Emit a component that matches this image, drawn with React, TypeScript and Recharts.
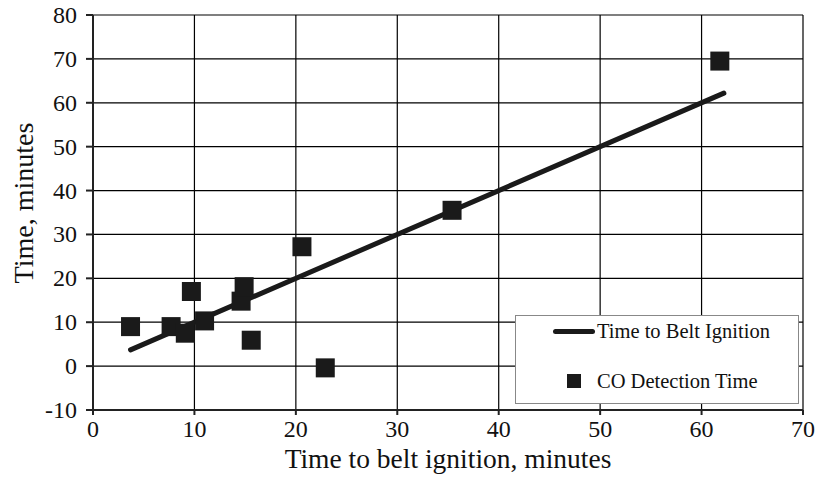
import { CartesianGrid, ComposedChart, Line, Scatter, XAxis, YAxis } from 'recharts'

const coX = [3.7, 7.7, 9.1, 9.7, 11.0, 14.6, 14.9, 15.6, 20.6, 22.9, 35.4, 61.8]
const coY = [9.0, 9.0, 7.5, 17.0, 10.3, 14.8, 18.1, 5.9, 27.2, -0.4, 35.5, 69.5]
const beltX = [3.7, 62.2]
const beltY = [3.7, 62.2]
const xTicks = [0, 10, 20, 30, 40, 50, 60, 70]
const yTicks = [-10, 0, 10, 20, 30, 40, 50, 60, 70, 80]

const coData = coX.map((x, i) => ({ x, co: coY[i] }))
const beltData = beltX.map((x, i) => ({ x, belt: beltY[i] }))

const FONT = '"Liberation Serif", "DejaVu Serif", serif'

function Square(props: any) {
  const { cx, cy } = props
  const s = 19
  return <rect x={cx - s / 2} y={cy - s / 2} width={s} height={s} fill="#1a1a1a" />
}

// serif tick labels
function XTick({ x, y, payload }: any) {
  return (
    <text x={x} y={y} dy={17} textAnchor="middle" fontFamily={FONT} fontSize={24} fill="#111">
      {payload.value}
    </text>
  )
}

function YTick({ x, y, payload }: any) {
  return (
    <text x={x} y={y} dy={8} textAnchor="end" fontFamily={FONT} fontSize={24} fill="#111">
      {payload.value}
    </text>
  )
}

function LegendBox() {
  return (
    <div
      style={{
        position: 'absolute',
        left: 515,
        top: 315,
        width: 284,
        height: 89,
        boxSizing: 'border-box',
        border: '1px solid #888',
        background: '#fff',
        fontFamily: FONT,
        fontSize: 20.5,
        lineHeight: '23px',
        color: '#111',
      }}
    >
      <div style={{ position: 'absolute', left: 37, top: 3.5, display: 'flex', alignItems: 'center', whiteSpace: 'nowrap' }}>
        <span style={{ display: 'inline-block', width: 42, height: 5, borderRadius: 3, background: '#1a1a1a' }} />
        <span style={{ marginLeft: 2 }}>Time to Belt Ignition</span>
      </div>
      <div style={{ position: 'absolute', left: 51, top: 53.5, display: 'flex', alignItems: 'center', whiteSpace: 'nowrap' }}>
        <span style={{ display: 'inline-block', width: 14, height: 14, background: '#1a1a1a' }} />
        <span style={{ marginLeft: 16 }}>CO Detection Time</span>
      </div>
    </div>
  )
}

export default function App() {
  return (
    <div
      style={{
        position: 'absolute',
        left: 0,
        top: 0,
        width: 817,
        height: 477,
        background: '#fff',
        fontFamily: FONT,
      }}
    >
      <ComposedChart width={817} height={477} margin={{ top: 15, right: 14, bottom: 0, left: 0 }}>
        <CartesianGrid stroke="#000" strokeWidth={1.2} />
        <XAxis
          type="number"
          dataKey="x"
          domain={[0, 70]}
          ticks={xTicks}
          allowDataOverflow
          height={67}
          tickSize={5}
          tickMargin={5}
          stroke="#222"
          strokeWidth={2}
          tick={<XTick />}
          label={{
            content: ({ viewBox }: any) => (
              <text
                x={viewBox.x + viewBox.width / 2}
                y={viewBox.y + 58}
                textAnchor="middle"
                fontSize={27.5}
                fontFamily={FONT}
                fill="#111"
              >
                Time to belt ignition, minutes
              </text>
            ),
          }}
        />
        <YAxis
          type="number"
          domain={[-10, 80]}
          ticks={yTicks}
          allowDataOverflow
          width={93}
          tickSize={7}
          tickMargin={9}
          stroke="#222"
          strokeWidth={2}
          tick={<YTick />}
          label={{
            content: ({ viewBox }: any) => {
              const cx = viewBox.x + 33
              const cy = viewBox.y + 188
              return (
                <text
                  x={cx}
                  y={cy}
                  transform={`rotate(-90 ${cx} ${cy})`}
                  textAnchor="middle"
                  fontSize={28}
                  fontFamily={FONT}
                  fill="#111"
                >
                  Time, minutes
                </text>
              )
            },
          }}
        />
        <Line
          data={beltData}
          dataKey="belt"
          type="linear"
          stroke="#1a1a1a"
          strokeWidth={5}
          strokeLinecap="round"
          dot={false}
          activeDot={false}
          isAnimationActive={false}
        />
        <Scatter data={coData} dataKey="co" shape={<Square />} isAnimationActive={false} />
      </ComposedChart>
      <LegendBox />
    </div>
  )
}
